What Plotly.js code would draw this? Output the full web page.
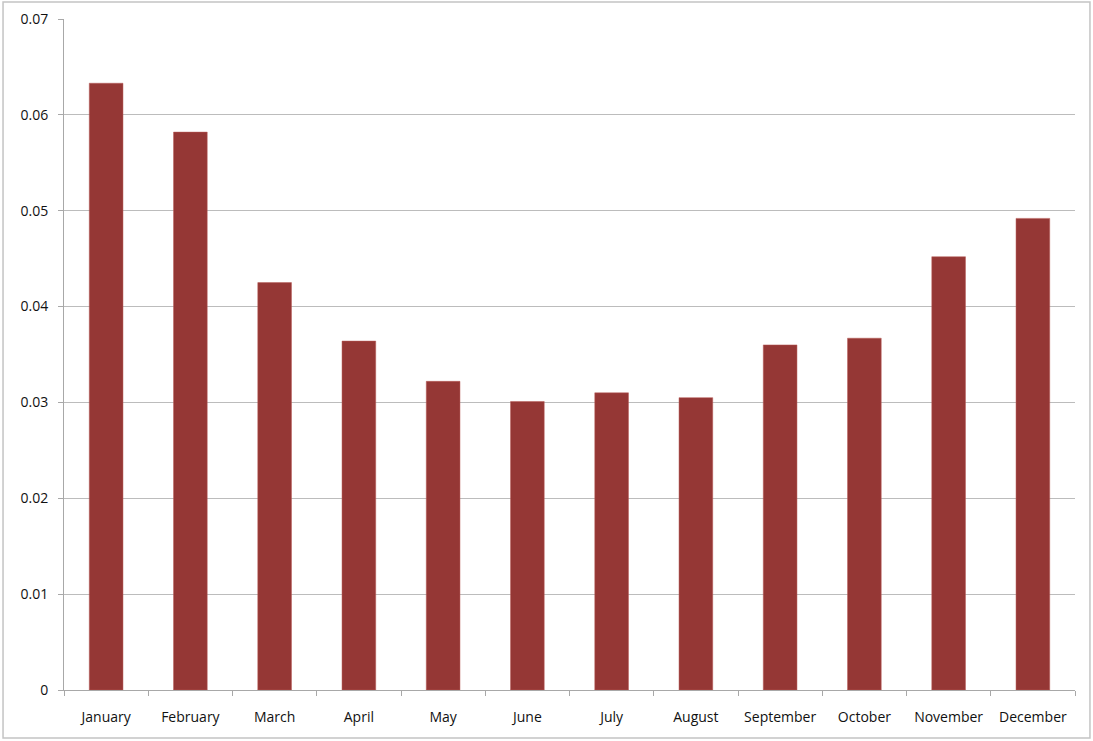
<!DOCTYPE html>
<html>
<head>
<meta charset="utf-8">
<script src="https://cdn.plot.ly/plotly-3.0.1.min.js"></script>
<style>
html,body{margin:0;padding:0;background:#fff;}
#chart{width:1093px;height:741px;}
</style>
</head>
<body>
<div id="chart"></div>
<script>
const months = ["January","February","March","April","May","June","July","August","September","October","November","December"];
const values = [0.0633,0.0582,0.0425,0.0364,0.0322,0.0301,0.0310,0.0305,0.0360,0.0367,0.0452,0.0492];
const yTicks = [0,0.01,0.02,0.03,0.04,0.05,0.06,0.07];
const yTickLabels = ["0","0.01","0.02","0.03","0.04","0.05","0.06","0.07"];

const trace = {
  type: "bar",
  x: months,
  y: values,
  marker: {color: "#953735", line: {color: "#b85a57", width: 0.5}},
  hoverinfo: "x+y"
};

const layout = {
  width: 1093,
  height: 741,
  margin: {l: 64, r: 18, t: 19, b: 51},
  paper_bgcolor: "#ffffff",
  plot_bgcolor: "#ffffff",
  showlegend: false,
  bargap: 0.6,
  font: {family: "Open Sans, Liberation Sans, sans-serif", size: 14, color: "#111"},
  xaxis: {
    type: "category",
    showgrid: false,
    showline: true,
    linecolor: "#a8a8a8",
    linewidth: 1,
    ticks: "outside",
    tickson: "boundaries",
    ticklen: 5,
    tickcolor: "#a8a8a8",
    ticklabelstandoff: 14,
    tickfont: {size: 14, color: "#111"},
    zeroline: false
  },
  yaxis: {
    range: [0, 0.07],
    tickvals: yTicks,
    ticktext: yTickLabels,
    showgrid: true,
    gridcolor: "#bcbcbc",
    gridwidth: 1,
    showline: true,
    linecolor: "#a8a8a8",
    linewidth: 1,
    ticks: "outside",
    ticklen: 5,
    tickcolor: "#a8a8a8",
    ticklabelstandoff: 7,
    tickfont: {size: 14, color: "#111"},
    zeroline: false
  },
  shapes: [{
    type: "rect",
    xref: "paper", yref: "paper",
    x0: -0.0603, x1: 1.0148, y0: -0.0715, y1: 1.0253,
    line: {color: "#c4c4c4", width: 1.5},
    fillcolor: "rgba(0,0,0,0)",
    layer: "below"
  }]
};

Plotly.newPlot("chart", [trace], layout, {displayModeBar: false, staticPlot: true});
</script>
</body>
</html>
